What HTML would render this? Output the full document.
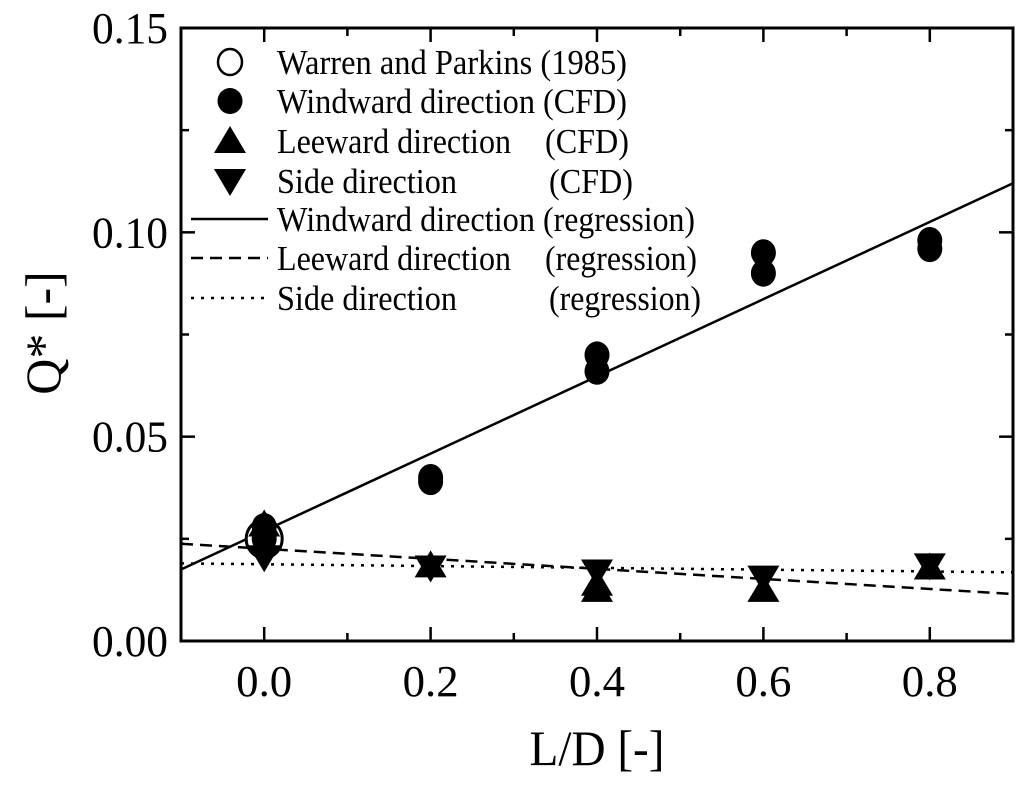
<!DOCTYPE html>
<html><head><meta charset="utf-8"><style>
body{margin:0;background:#fff;}
svg{display:block;font-family:"Liberation Serif",serif;}
</style></head><body>
<svg id="chart" width="1024" height="786">
<g id="plot"></g>
</svg>
<script>
const xTicks=[0.0,0.2,0.4,0.6,0.8];
const xTickLabels=["0.0","0.2","0.4","0.6","0.8"];
const yTicks=[0,0.05,0.10,0.15];
const yTickLabels=["0.00","0.05","0.10","0.15"];
const warrenX=[0.0];
const warrenY=[0.025];
const windX=[0.0,0.0,0.2,0.2,0.4,0.4,0.6,0.6,0.8,0.8];
const windY=[0.025,0.028,0.039,0.040,0.066,0.070,0.090,0.095,0.096,0.098];
const leeX=[0.0,0.2,0.4,0.4,0.6,0.8];
const leeY=[0.0285,0.0185,0.0125,0.014,0.0125,0.018];
const sideX=[0.0,0.2,0.4,0.6,0.8];
const sideY=[0.0205,0.018,0.017,0.0155,0.0185];
const regX=[-0.1,0.9];
const windReg=[0.0175,0.112];
const leeReg=[0.0238,0.0115];
const sideReg=[0.019,0.0168];
const legendLabels=["Warren and Parkins (1985)","Windward direction","Leeward direction","Side direction","Windward direction","Leeward direction","Side direction"];
const legendSuffix=["","(CFD)","(CFD)","(CFD)","(regression)","(regression)","(regression)"];

const L=181,R=1013,T=28,B=641;
const xs=v=>L+(v+0.1)/1.0*(R-L);
const ys=v=>B-v/0.15*(B-T);
const NS="http://www.w3.org/2000/svg";
const g=document.getElementById('plot');
function mk(tag,attrs,parent){const e=document.createElementNS(NS,tag);for(const k in attrs)e.setAttribute(k,attrs[k]);(parent||g).appendChild(e);return e;}

const clip=mk('clipPath',{id:'cp'});mk('rect',{x:L,y:T,width:R-L,height:B-T},clip);
const lw=mk('line',{x1:xs(regX[0]),y1:ys(windReg[0]),x2:xs(regX[1]),y2:ys(windReg[1]),stroke:'#000','stroke-width':2.5,'clip-path':'url(#cp)'});


const ll=mk('line',{x1:xs(regX[0]),y1:ys(leeReg[0]),x2:xs(regX[1]),y2:ys(leeReg[1]),stroke:'#000','stroke-width':2.5,'stroke-dasharray':'12 7'});


const ls=mk('line',{x1:xs(regX[0]),y1:ys(sideReg[0]),x2:xs(regX[1]),y2:ys(sideReg[1]),stroke:'#000','stroke-width':2.5,'stroke-dasharray':'3 7'});



function up(cx,cy,s){return `${cx},${cy-s} ${cx-16},${cy+s*0.8} ${cx+16},${cy+s*0.8}`;}
function dn(cx,cy,s){return `${cx},${cy+s} ${cx-16},${cy-s*0.8} ${cx+16},${cy-s*0.8}`;}

warrenX.forEach((x,i)=>{const c=mk('ellipse',{cx:xs(x),cy:ys(warrenY[i]),rx:18,ry:19,fill:'#fff',stroke:'#000','stroke-width':3});

});
windX.forEach((x,i)=>{const c=mk('ellipse',{cx:xs(x),cy:ys(windY[i]),rx:12.5,ry:13.5,fill:'#000'});

});
leeX.forEach((x,i)=>{const p=mk('polygon',{points:up(xs(x),ys(leeY[i]),15),fill:'#000'});

});
sideX.forEach((x,i)=>{const p=mk('polygon',{points:dn(xs(x),ys(sideY[i]),15),fill:'#000'});

});

const fr=mk('rect',{x:L,y:T,width:R-L,height:B-T,fill:'none',stroke:'#000','stroke-width':3});


for(let v=-0.1;v<=0.9001;v+=0.1){const X=xs(v);const major=Math.abs(Math.round(v*10)%2)===0;const len=major?14:8;
mk('line',{x1:X,y1:B,x2:X,y2:B-len,stroke:'#000','stroke-width':2.5});mk('line',{x1:X,y1:T,x2:X,y2:T+len,stroke:'#000','stroke-width':2.5});}
xTicks.forEach((v,i)=>{const t=mk('text',{x:xs(v),y:696,'font-size':44,'text-anchor':'middle',textLength:56,lengthAdjust:'spacingAndGlyphs'});t.textContent=xTickLabels[i];

});
for(let v=0;v<=0.1501;v+=0.025){const Y=ys(v);const major=Math.abs(Math.round(v*40)%2)===0;const len=major?14:8;
mk('line',{x1:L,y1:Y,x2:L+len,y2:Y,stroke:'#000','stroke-width':2.5});mk('line',{x1:R,y1:Y,x2:R-len,y2:Y,stroke:'#000','stroke-width':2.5});}
yTicks.forEach((v,i)=>{const t=mk('text',{x:168,y:ys(v)+15,'font-size':44,'text-anchor':'end',textLength:76,lengthAdjust:'spacingAndGlyphs'});t.textContent=yTickLabels[i];

});
const xt=mk('text',{x:597,y:765,'font-size':50,'text-anchor':'middle',textLength:135,lengthAdjust:'spacingAndGlyphs'});xt.textContent='L/D [-]';


const yt=mk('text',{x:0,y:0,'font-size':50,'text-anchor':'middle',transform:'translate(60,333) rotate(-90)'});yt.textContent='Q* [-]';



const rows=[62,101,141,181,219,258,298];
const lg=mk('g',{});


mk('ellipse',{cx:230,cy:rows[0],rx:12,ry:13,fill:'none',stroke:'#000','stroke-width':2.5},lg);
mk('ellipse',{cx:230,cy:rows[1],rx:12.5,ry:13,fill:'#000'},lg);
mk('polygon',{points:up(230,rows[2],15),fill:'#000'},lg);
mk('polygon',{points:dn(230,rows[3],15),fill:'#000'},lg);
mk('line',{x1:191,y1:rows[4],x2:268,y2:rows[4],stroke:'#000','stroke-width':2.5},lg);
mk('line',{x1:191,y1:rows[5],x2:268,y2:rows[5],stroke:'#000','stroke-width':2.5,'stroke-dasharray':'12 7'},lg);
mk('line',{x1:191,y1:rows[6],x2:268,y2:rows[6],stroke:'#000','stroke-width':2.5,'stroke-dasharray':'3 7'},lg);
const widths=[350,258,234,180,258,234,180];
const sufX=[0,543,545,549,543,545,549];
legendLabels.forEach((s,i)=>{const t=mk('text',{x:277,y:rows[i]+12,'font-size':35,textLength:widths[i],lengthAdjust:'spacingAndGlyphs'},lg);t.textContent=s;


if(legendSuffix[i]){const u=mk('text',{x:sufX[i],y:rows[i]+12,'font-size':35,textLength:legendSuffix[i]==='(CFD)'?84:152,lengthAdjust:'spacingAndGlyphs'},lg);u.textContent=legendSuffix[i];

}});
</script>
</body></html>
